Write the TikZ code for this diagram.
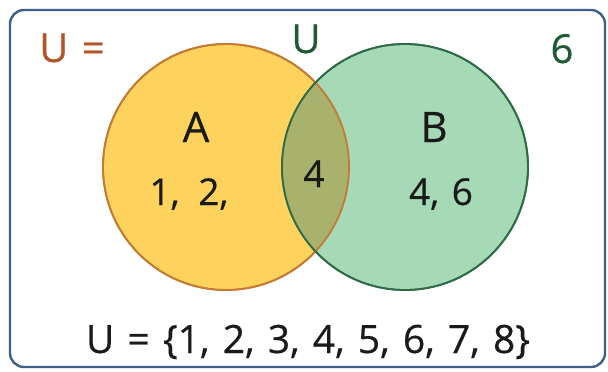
\documentclass[tikz,border=0pt]{standalone}
\usepackage{fontspec}
\setmainfont[WordSpace=1.3, FakeBold=0.5]{Open Sans}
\usetikzlibrary{positioning}

\definecolor{frameblue}{HTML}{3E5F8A}
\definecolor{afill}{HTML}{FDD35E}
\definecolor{aline}{HTML}{C47A33}
\definecolor{bfill}{HTML}{A6D9B5}
\definecolor{bline}{HTML}{2F6B48}
\definecolor{lensfill}{HTML}{A8B26C}
\definecolor{ured}{HTML}{B4532A}
\definecolor{ugreen}{HTML}{1E5A34}
\definecolor{ink}{HTML}{1A1A1A}

\begin{document}
\begin{tikzpicture}[x=1pt, y=-1pt,
  ring/.style={circle, minimum size=246pt, inner sep=0pt, line width=1.8pt},
  big/.style={font=\fontsize{42}{46}\selectfont, text=ink, anchor=base, inner sep=0pt},
  num/.style={font=\fontsize{37}{40}\selectfont, text=ink, anchor=base, inner sep=0pt}]
\useasboundingbox (0,0) rectangle (608,372);

% frame
\draw[frameblue, line width=2.4pt, rounded corners=14pt] (10,10) rectangle (605,367);

% the two sets
\node[ring, fill=afill, draw=aline] (A) at (226,167) {};
\node[ring, fill=bfill, draw=bline] (B) at (405,167) {};
\begin{scope}
  \clip (226,167) circle (123);
  \fill[lensfill] (405,167) circle (123);
\end{scope}
\node[ring, draw=aline] (A2) at (A) {};
\node[ring, draw=bline] (B2) at (B) {};

% labels
\node[num, text=ured, font=\fontsize{40}{44}\selectfont] (ueq) at (72,62) {U =};
\node[num, text=ugreen, font=\fontsize{40}{44}\selectfont] (utop) at (306,53) {U};
\node[num, text=ugreen, font=\fontsize{40}{44}\selectfont] (six) at (562,63) {6};

\node[big] (la) at (196,142) {A};
\node[num] (ea) at (189,205) {1,\, 2,};
\node[num] (mid) at (314,187) {4};
\node[big] (lb) at (434,142) {B};
\node[num] (eb) at (441,205) {4, 6};

\node[num, font=\fontsize{39}{42}\selectfont] (uni) at (308,353) {U = \{1, 2, 3, 4, 5, 6, 7, 8\}};
\end{tikzpicture}
\end{document}
